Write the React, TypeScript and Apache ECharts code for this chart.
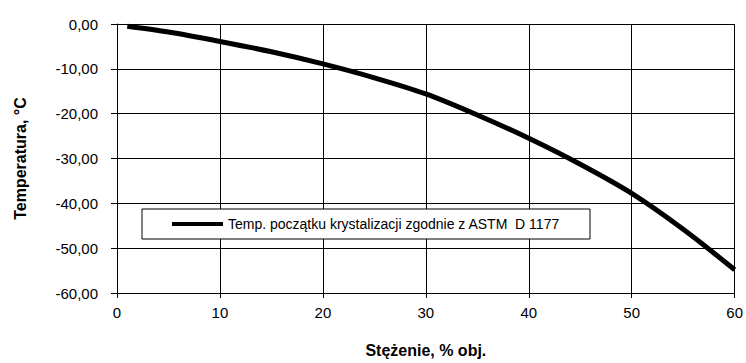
import React, { useEffect, useRef } from "react";
import * as echarts from "echarts";

const concentration = [1, 5, 10, 15, 20, 25, 30, 35, 40, 45, 50, 55, 60];
const temperature = [-0.5, -1.8, -3.9, -6.2, -8.9, -12.0, -15.6, -20.3, -25.5, -31.3, -37.8, -45.8, -54.8];
const seriesName = "Temp. początku krystalizacji zgodnie z ASTM  D 1177";
const xTitle = "Stężenie, % obj.";
const yTitle = "Temperatura, °C";

export default function App() {
  const ref = useRef<HTMLDivElement>(null);
  useEffect(() => {
    if (!ref.current) return;
    const chart = echarts.init(ref.current, null, { renderer: "svg" });
    const font = "'Liberation Sans', Arial, sans-serif";
    chart.setOption({
      animation: false,
      backgroundColor: "#fff",
      grid: { left: 117, right: 9, top: 24, bottom: 67 },
      legend: {
        left: 142,
        top: 209,
        orient: "horizontal",
        padding: [8, 30, 8, 30],
        borderColor: "#000",
        borderWidth: 1,
        borderRadius: 0,
        backgroundColor: "#fff",
        itemWidth: 51,
        itemHeight: 4,
        itemGap: 4,
        icon: "rect",
        textStyle: { fontFamily: font, fontSize: 14, color: "#000" },
        data: [{ name: seriesName, icon: "rect", itemStyle: { color: "#000" } }],
      },
      xAxis: {
        type: "value",
        min: 0,
        max: 60,
        interval: 10,
        name: xTitle,
        nameLocation: "middle",
        nameGap: 49,
        nameTextStyle: { fontFamily: font, fontSize: 16, fontWeight: "bold", color: "#000", verticalAlign: "top" },
        axisLine: { show: true, onZero: false, lineStyle: { color: "#000", width: 1 } },
        axisTick: { show: true, length: 5, lineStyle: { color: "#000" } },
        axisLabel: { fontFamily: font, fontSize: 15, color: "#000", margin: 12 },
        splitLine: { show: true, lineStyle: { color: "#000", width: 1 } },
      },
      yAxis: {
        type: "value",
        min: -60,
        max: 0,
        interval: 10,
        name: yTitle,
        nameLocation: "middle",
        nameGap: 89,
        nameTextStyle: { fontFamily: font, fontSize: 16, fontWeight: "bold", color: "#000" },
        axisLine: { show: true, onZero: false, lineStyle: { color: "#000", width: 1 } },
        axisTick: { show: true, length: 6, lineStyle: { color: "#000" } },
        axisLabel: {
          fontFamily: font,
          fontSize: 15,
          color: "#000",
          margin: 19,
          formatter: (v: number) => v.toFixed(2).replace(".", ","),
        },
        splitLine: { show: true, lineStyle: { color: "#000", width: 1 } },
      },
      series: [
        {
          name: seriesName,
          type: "line",
          data: concentration.map((c, i) => [c, temperature[i]]),
          smooth: 0.3,
          showSymbol: false,
          lineStyle: { color: "#000", width: 5 },
          itemStyle: { color: "#000" },
        },
      ],
    });
    return () => chart.dispose();
  }, []);
  return <div ref={ref} style={{ width: 746, height: 363, position: "absolute", left: 0, top: 0 }} />;
}
